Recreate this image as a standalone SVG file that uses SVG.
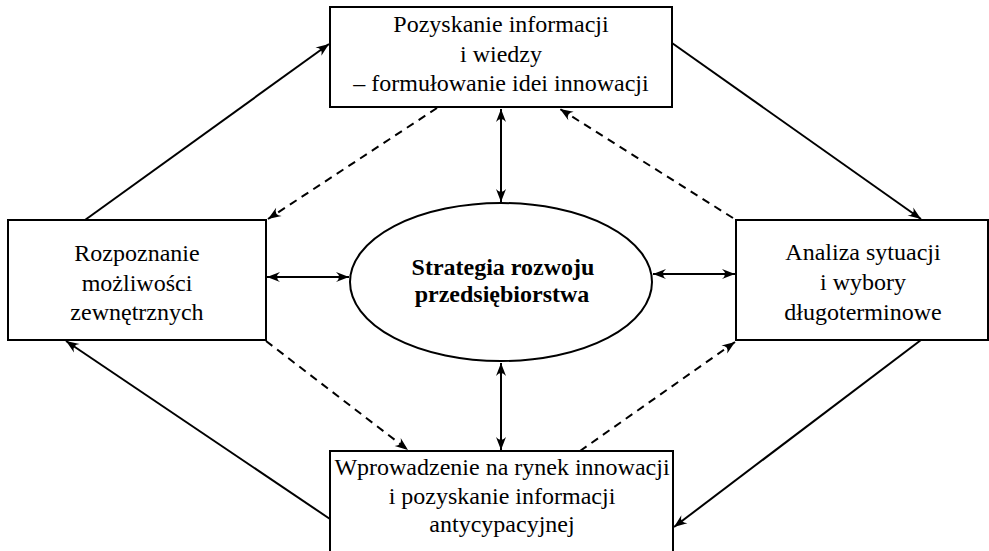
<svg xmlns="http://www.w3.org/2000/svg" width="989" height="551" viewBox="0 0 989 551">
<style>
.box{fill:#fff;stroke:#000;stroke-width:2}
.t{font-family:"Liberation Serif","Times New Roman",serif;font-size:24px;fill:#000;text-anchor:middle}
.b{font-weight:bold}
.ln{fill:none;stroke:#000;stroke-width:2;marker-end:url(#ah)}
.ds{stroke-dasharray:8 6}
.dbl{marker-start:url(#ah)}
</style>
<defs>
<marker id="ah" viewBox="-14 -6 15 12" refX="0" refY="0" markerWidth="15" markerHeight="12" markerUnits="userSpaceOnUse" orient="auto-start-reverse">
<path d="M0,0 L-13,-5 Q-7,0 -13,5 Z" fill="#000"/>
</marker>
</defs>
<rect width="989" height="551" fill="#fff"/>
<g id="connectors">
<line class="ln" x1="85" y1="220" x2="329" y2="44"/>
<line class="ln" x1="672" y1="43" x2="921" y2="219"/>
<line class="ln" x1="921" y1="340" x2="674" y2="527"/>
<line class="ln" x1="330" y1="519" x2="66" y2="341"/>
<line class="ln ds" x1="437" y1="108" x2="268" y2="219"/>
<line class="ln ds" x1="733" y1="218" x2="560" y2="109"/>
<line class="ln ds" x1="266" y1="341" x2="408" y2="450"/>
<line class="ln ds" x1="580" y1="451" x2="735" y2="342"/>
<line class="ln dbl" x1="501" y1="109" x2="501" y2="202"/>
<line class="ln dbl" x1="501" y1="363" x2="501" y2="450"/>
<line class="ln dbl" x1="267" y1="277" x2="349" y2="277"/>
<line class="ln dbl" x1="653" y1="274" x2="735" y2="274"/>
</g>
<g id="n_top">
<rect class="box" x="330" y="7" width="342" height="100"/>
<text class="t" x="501" y="32">Pozyskanie informacji</text>
<text class="t" x="501" y="62">i wiedzy</text>
<text class="t" x="501" y="91">– formułowanie idei innowacji</text>
</g>
<g id="n_left">
<rect class="box" x="8" y="220" width="258" height="120"/>
<text class="t" x="137" y="261">Rozpoznanie</text>
<text class="t" x="137" y="291">możliwości</text>
<text class="t" x="137" y="320">zewnętrznych</text>
</g>
<g id="n_right">
<rect class="box" x="736" y="220" width="252" height="120"/>
<text class="t" x="863" y="260">Analiza sytuacji</text>
<text class="t" x="863" y="290">i wybory</text>
<text class="t" x="863" y="320">długoterminowe</text>
</g>
<g id="n_bottom">
<rect class="box" x="330" y="451" width="343" height="110"/>
<text class="t" x="502" y="475">Wprowadzenie na rynek innowacji</text>
<text class="t" x="502" y="504">i pozyskanie informacji</text>
<text class="t" x="502" y="532">antycypacyjnej</text>
</g>
<g id="n_center">
<ellipse class="box" cx="501" cy="282" rx="151" ry="79"/>
<text class="t b" x="503" y="275">Strategia rozwoju</text>
<text class="t b" x="502" y="302">przedsiębiorstwa</text>
</g>
</svg>
